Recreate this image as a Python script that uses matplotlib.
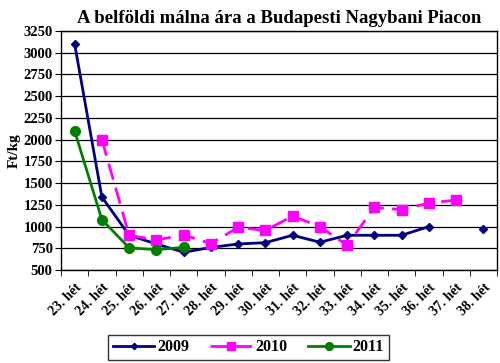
import matplotlib
matplotlib.use("Agg")
import matplotlib.pyplot as plt
import numpy as np

plt.rcParams['font.family'] = ['Liberation Serif', 'DejaVu Serif']

weeks = ["23. hét", "24. hét", "25. hét", "26. hét", "27. hét", "28. hét", "29. hét",
         "30. hét", "31. hét", "32. hét", "33. hét", "34. hét", "35. hét", "36. hét",
         "37. hét", "38. hét"]
s2009 = [3100, 1340, 900, 800, 705, 760, 800, 815, 900, 820, 900, 900, 900, 1000, np.nan, 973]
s2010 = [np.nan, 2000, 900, 845, 905, 805, 990, 955, 1120, 1000, 785, 1220, 1195, 1270, 1305, np.nan]
s2011 = [2100, 1080, 755, 735, 760, np.nan, np.nan, np.nan, np.nan, np.nan, np.nan, np.nan, np.nan, np.nan, np.nan, np.nan]

fig = plt.figure(figsize=(5, 3.63), dpi=100)
ax = fig.add_axes([0.122, 0.256, 0.872, 0.659])

x = np.arange(len(weeks))
ax.plot(x, s2009, color='#000080', lw=2, marker='D', ms=4, label='2009', zorder=3)
ax.plot(x, s2010, color='#FF00FF', lw=2, marker='s', ms=6.5, dashes=(6, 3), label='2010', zorder=4)
ax.plot(x, s2011, color='#008000', lw=2, marker='o', ms=7, label='2011', zorder=5)

ax.set_xlim(-0.5, len(weeks) - 0.5)
ax.set_ylim(500, 3250)
ax.set_yticks(np.arange(500, 3251, 250))
ax.set_yticklabels([str(v) for v in range(500, 3251, 250)], fontsize=10.5, fontweight='bold')
ax.set_xticks(x)
ax.set_xticklabels(weeks, rotation=45, ha='right', rotation_mode='anchor', fontsize=10, fontweight='bold')
ax.set_xticks(np.arange(-0.5, len(weeks), 1), minor=True)
ax.tick_params(axis='x', which='major', length=0, pad=8)
ax.tick_params(axis='x', which='minor', length=4, direction='out', color='black')
ax.tick_params(axis='y', length=4, direction='out', pad=2)
ax.grid(axis='y', color='black', lw=0.9)
ax.set_axisbelow(True)
for sp in ax.spines.values():
    sp.set_color('black')
    sp.set_linewidth(1)
ax.set_ylabel('Ft/kg', fontsize=11, fontweight='bold', labelpad=2)

ax.set_title('A belföldi málna ára a Budapesti Nagybani Piacon', fontsize=13.5, fontweight='bold', pad=6)

leg = fig.legend(loc='center', bbox_to_anchor=(0.497, 0.043), ncol=3, frameon=True, fancybox=False,
                 edgecolor='black', prop={'size': 11.5, 'weight': 'bold'}, handlelength=2.6,
                 columnspacing=1.3, borderpad=0.3, handletextpad=0.2, markerscale=0.8)
leg.get_frame().set_linewidth(1)

fig.savefig('out.png', dpi=100)
